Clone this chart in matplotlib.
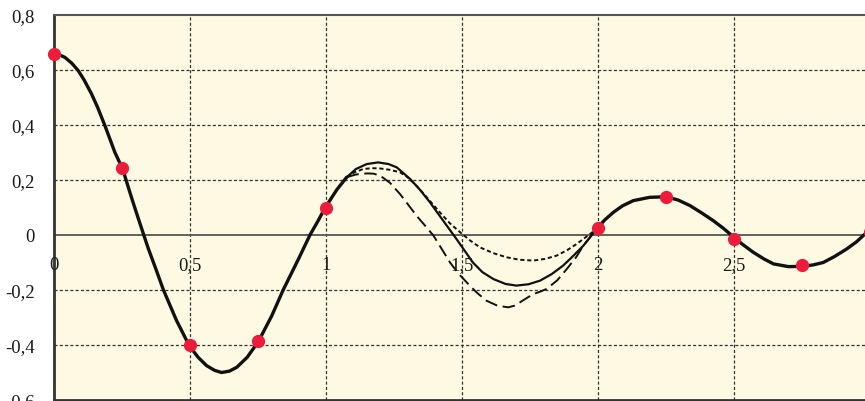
import matplotlib
matplotlib.use("Agg")
import matplotlib.pyplot as plt

# main curve, left part
main1_x = [0.0, 0.02, 0.04, 0.065, 0.089, 0.11, 0.138, 0.16, 0.1875, 0.224, 0.2525, 0.279,
           0.30, 0.33, 0.347, 0.375, 0.402, 0.45, 0.497, 0.53, 0.561, 0.59, 0.616, 0.645,
           0.672, 0.71, 0.751, 0.80, 0.843, 0.90, 0.941, 0.97, 0.996, 1.04, 1.076]
main1_y = [0.66, 0.655, 0.646, 0.625, 0.598, 0.565, 0.513, 0.465, 0.397, 0.30, 0.24, 0.155,
           0.09, 0.0, -0.05, -0.125, -0.199, -0.31, -0.402, -0.445, -0.475, -0.492, -0.50, -0.495,
           -0.481, -0.445, -0.388, -0.295, -0.199, -0.085, 0.0, 0.05, 0.098, 0.165, 0.21]

# three variants between 1.08 and 2.0
solid_x = [1.076, 1.11, 1.15, 1.192, 1.23, 1.26, 1.309, 1.345, 1.382, 1.444, 1.48, 1.54,
           1.575, 1.615, 1.66, 1.70, 1.745, 1.787, 1.83, 1.872, 1.91, 1.946, 1.995]
solid_y = [0.21, 0.24, 0.258, 0.264, 0.258, 0.246, 0.204, 0.165, 0.119, 0.034, -0.015, -0.10,
           -0.135, -0.16, -0.178, -0.184, -0.179, -0.166, -0.142, -0.111, -0.075, -0.039, 0.022]

short_x = [1.076, 1.105, 1.137, 1.17, 1.199, 1.235, 1.272, 1.30, 1.333, 1.375, 1.419, 1.455,
           1.493, 1.53, 1.566, 1.615, 1.664, 1.712, 1.762, 1.805, 1.848, 1.885, 1.921, 1.955, 1.995]
short_y = [0.21, 0.228, 0.24, 0.243, 0.242, 0.237, 0.228, 0.21, 0.179, 0.132, 0.082, 0.043,
           0.01, -0.02, -0.045, -0.066, -0.081, -0.09, -0.093, -0.087, -0.075, -0.056, -0.033, -0.008, 0.022]

long_x = [1.076, 1.11, 1.15, 1.175, 1.199, 1.235, 1.272, 1.30, 1.333, 1.365, 1.395, 1.425,
          1.456, 1.487, 1.517, 1.555, 1.59, 1.63, 1.67, 1.693, 1.713, 1.74, 1.762, 1.79,
          1.811, 1.85, 1.885, 1.92, 1.946, 1.995]
long_y = [0.21, 0.22, 0.224, 0.223, 0.216, 0.19, 0.149, 0.113, 0.07, 0.033, -0.002, -0.05,
          -0.10, -0.14, -0.172, -0.21, -0.239, -0.257, -0.263, -0.257, -0.245, -0.228, -0.215, -0.205,
          -0.196, -0.165, -0.124, -0.08, -0.039, 0.022]

# main curve, right part
main2_x = [1.995, 2.025, 2.056, 2.09, 2.13, 2.19, 2.25, 2.295, 2.338, 2.38, 2.424, 2.46, 2.49,
           2.53, 2.571, 2.61, 2.645, 2.70, 2.749, 2.79, 2.828, 2.87, 2.914, 2.95, 2.982, 3.0]
main2_y = [0.022, 0.055, 0.082, 0.106, 0.125, 0.137, 0.139, 0.127, 0.107, 0.081, 0.052, 0.025, 0.0,
           -0.033, -0.063, -0.087, -0.105, -0.115, -0.114, -0.109, -0.10, -0.078, -0.051, -0.025, 0.004, 0.018]

# red points
pts_x = [0.0, 0.25, 0.5, 0.75, 1.0, 2.0, 2.25, 2.5, 2.75, 3.0]
pts_y = [0.66, 0.245, -0.40, -0.385, 0.10, 0.025, 0.14, -0.015, -0.11, 0.01]

y_ticks = [-0.6, -0.4, -0.2, 0, 0.2, 0.4, 0.6, 0.8]
y_labels = ["-0,6", "-0,4", "-0,2", "0", "0,2", "0,4", "0,6", "0,8"]
x_ticks = [0, 0.5, 1, 1.5, 2, 2.5]
x_labels = ["0", "0,5", "1", "1,5", "2", "2,5"]

plt.rcParams['lines.scale_dashes'] = False
serif = ['Liberation Serif', 'DejaVu Serif']

fig = plt.figure(figsize=(8.65, 4.02), dpi=100)
ax = fig.add_axes([54 / 865, 1 / 402, 816 / 865, 385 / 402])
ax.set_facecolor('#fef9e2')
ax.set_xlim(0, 3)
ax.set_ylim(-0.6, 0.8)

for v in [0.5, 1, 1.5, 2, 2.5]:
    ax.axvline(v, color='#333333', lw=0.9, dashes=(2.2, 1.6), zorder=1)
for v in [-0.4, -0.2, 0.2, 0.4, 0.6]:
    ax.axhline(v, color='#333333', lw=0.9, dashes=(2.2, 1.6), zorder=1)
ax.axhline(0, color='#555555', lw=1.3, zorder=1)

ax.plot(solid_x, solid_y, color='#111111', lw=1.6, zorder=3)
ax.plot(short_x, short_y, color='#111111', lw=1.4, dashes=(3, 2), zorder=3)
ax.plot(long_x, long_y, color='#111111', lw=1.4, dashes=(9, 4), zorder=3)
ax.plot(main1_x, main1_y, color='#111111', lw=2.4, zorder=3, solid_capstyle='round')
ax.plot(main2_x, main2_y, color='#111111', lw=2.4, zorder=3, solid_capstyle='round')
ax.plot(pts_x, pts_y, 'o', color='#ec1c3a', ms=8.5, zorder=4, clip_on=False)

ax.set_yticks(y_ticks)
ax.set_yticklabels(y_labels, family=serif, fontsize=13.5, color='#1a1a1a')
ax.tick_params(axis='y', length=0, pad=14)
ax.set_xticks([])
for x, lab in zip(x_ticks, x_labels):
    ax.annotate(lab, (x, 0), xytext=(0, -21), textcoords='offset points',
                ha='center', va='center', family=serif, fontsize=13.5, color='#1a1a1a')

ax.spines['left'].set_color('#333333')
ax.spines['left'].set_linewidth(2.0)
ax.spines['top'].set_color('#555555')
ax.spines['top'].set_linewidth(1.5)
ax.spines['bottom'].set_color('#333333')
ax.spines['bottom'].set_linewidth(2.0)
ax.spines['right'].set_visible(False)

fig.savefig('out.png', dpi=100)
